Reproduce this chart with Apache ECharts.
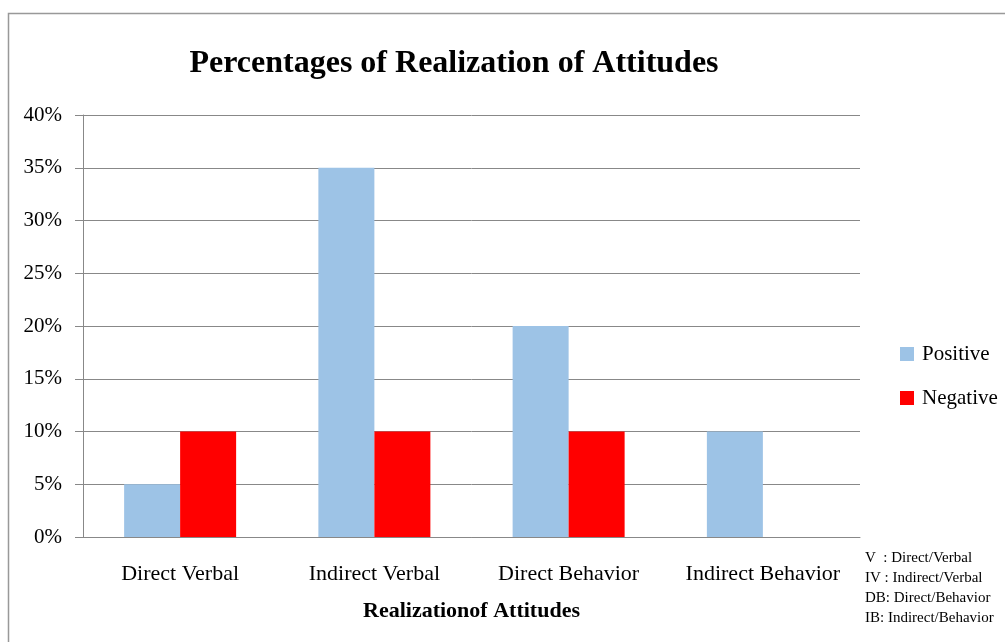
<!DOCTYPE html>
<html>
<head>
<meta charset="utf-8">
<script src="https://cdn.jsdelivr.net/npm/echarts@6/dist/echarts.min.js"></script>
<style>html,body{margin:0;padding:0;background:#fff;}#c{width:1005px;height:642px;}</style>
</head>
<body>
<div id="c"></div>
<script>
var categories = ['Direct Verbal', 'Indirect Verbal', 'Direct Behavior', 'Indirect Behavior'];
var positive = [5, 35, 20, 10];
var negative = [10, 10, 10, 0];
var notes = ['V  : Direct/Verbal', 'IV : Indirect/Verbal', 'DB: Direct/Behavior', 'IB: Indirect/Behavior'];
var font = '"Liberation Serif", "Times New Roman", serif';
var chart = echarts.init(document.getElementById('c'));
chart.setOption({
  animation: false,
  backgroundColor: '#fff',
  title: {
    text: 'Percentages of Realization of Attitudes',
    left: 449, top: 43, textAlign: 'center',
    textStyle: {fontFamily: font, fontWeight: 'bold', fontSize: 32, color: '#000'}
  },
  legend: {
    orient: 'vertical', left: 895, top: 338,
    itemWidth: 14, itemHeight: 14, itemGap: 22,
    icon: 'rect',
    textStyle: {fontFamily: font, fontSize: 21, color: '#000', lineHeight: 22, padding: [0,0,0,3]},
    data: ['Positive', 'Negative']
  },
  grid: {left: 83, right: 145, top: 115, bottom: 105},
  xAxis: {
    type: 'category', data: categories,
    name: 'Realizationof Attitudes', nameLocation: 'middle', nameGap: 63,
    nameTextStyle: {fontFamily: font, fontWeight: 'bold', fontSize: 22, color: '#000'},
    axisLine: {lineStyle: {color: '#888', width: 1}},
    axisTick: {show: false},
    axisLabel: {fontFamily: font, fontSize: 22, color: '#000', margin: 26, interval: 0}
  },
  yAxis: {
    type: 'value', min: 0, max: 40, interval: 5,
    axisLine: {show: true, lineStyle: {color: '#888', width: 1}},
    axisTick: {show: true, length: 8, inside: false, lineStyle: {color: '#888'}},
    axisLabel: {fontFamily: font, fontSize: 21, color: '#000', margin: 21, formatter: '{value}%'},
    splitLine: {lineStyle: {color: '#888', width: 1}}
  },
  series: [
    {name: 'Positive', type: 'bar', data: positive, barWidth: 56, barGap: '0%', itemStyle: {color: '#9DC3E6'}},
    {name: 'Negative', type: 'bar', data: negative, barWidth: 56, barGap: '0%', itemStyle: {color: '#FF0000'}}
  ],
  graphic: [
    {type: 'rect', shape: {x: 8.5, y: 13.5, width: 1100, height: 700}, style: {fill: 'none', stroke: '#999', lineWidth: 1.5}, silent: true},
    {type: 'group', left: 865, top: 551, children: notes.map(function(t, i){
      return {type: 'text', x: 0, y: i * 20, style: {text: t, font: '15px ' + font, fill: '#000'}};
    })}
  ]
});
</script>
</body>
</html>
